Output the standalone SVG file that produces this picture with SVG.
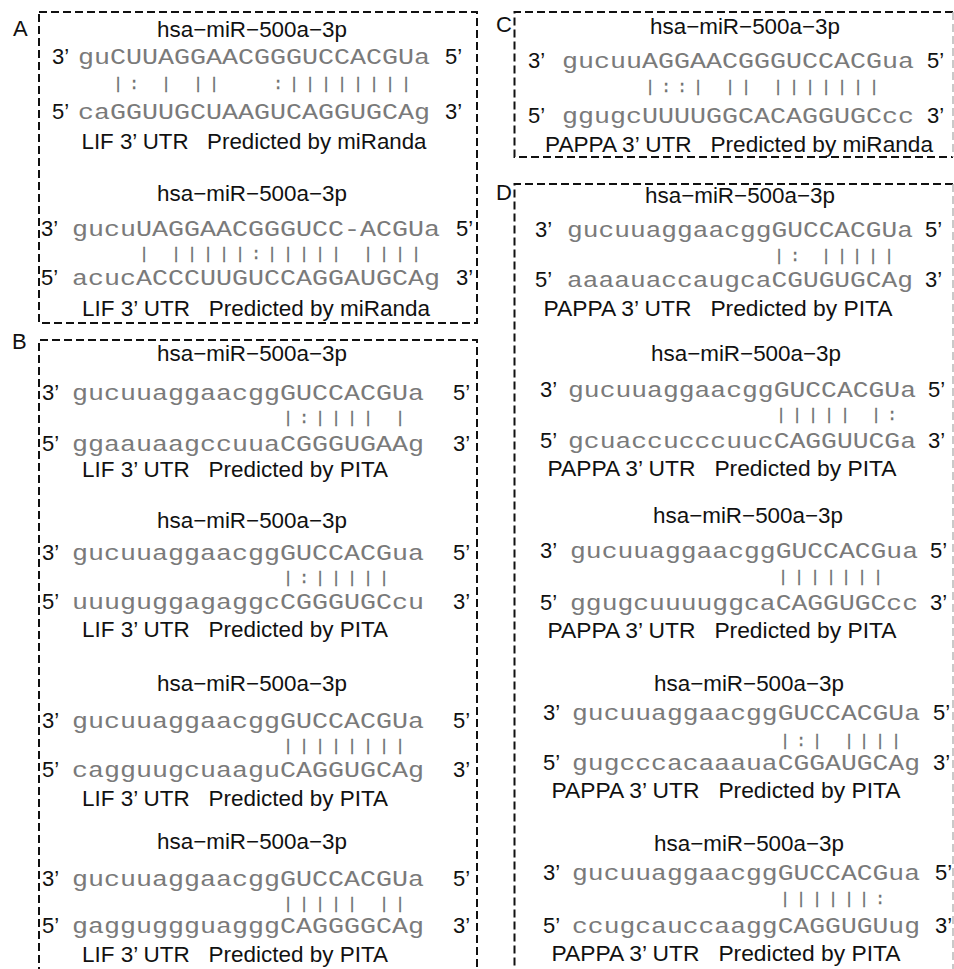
<svg xmlns="http://www.w3.org/2000/svg" width="954" height="969" viewBox="0 0 954 969">
<style>
.lab{font-family:"Liberation Sans",Arial,sans-serif;font-size:22px;fill:#111;white-space:pre}
.mid{text-anchor:middle}
.seq{font-family:"Liberation Mono","Courier New",monospace;font-size:22px;fill:#7a7a7a}
.bar{font-family:"Liberation Mono","Courier New",monospace;font-size:17px;fill:#707070;stroke:#707070;stroke-width:0.3;text-anchor:middle}
.box{fill:none;stroke:#111;stroke-width:2;stroke-dasharray:8 4}
.edge{fill:none;stroke:#b8b8b8;stroke-width:1.5;stroke-dasharray:8 4}
</style>
<rect width="954" height="969" fill="#fff"/>
<g id="frames">
<rect class="box" x="39" y="12" width="438" height="311"/>
<path class="box" d="M39,975 V340 H477 V975"/>
<path class="box" d="M953,12 H514.5 V157 H953"/>
<path class="edge" d="M953,12 V157"/>
<path class="box" d="M953,184 H514.5 V975"/>
<path class="edge" d="M953,184 V975"/>
</g>
<g id="panel-labels">
<text class="lab" x="13" y="36">A</text>
<text class="lab" x="12" y="349">B</text>
<text class="lab" x="496" y="32">C</text>
<text class="lab" x="496" y="200">D</text>
</g>

<g id="A1">
<text class="lab mid" x="252" y="37" textLength="190" lengthAdjust="spacingAndGlyphs">hsa−miR−500a−3p</text>
<text class="lab" x="52" y="64">3’</text>
<text class="seq" x="78" y="64" textLength="352" lengthAdjust="spacingAndGlyphs">guCUUAGGAACGGGUCCACGUa</text>
<text class="lab" x="445" y="64">5’</text>
<text class="bar" x="118 134 166 198 214 278 294 310 326 342 358 374 390 406" y="89">|:|||:||||||||</text>
<text class="lab" x="52" y="119">5’</text>
<text class="seq" x="78" y="119" textLength="352" lengthAdjust="spacingAndGlyphs">caGGUUGCUAAGUCAGGUGCAg</text>
<text class="lab" x="445" y="119">3’</text>
<text class="lab mid" x="254" y="149" textLength="345" lengthAdjust="spacingAndGlyphs">LIF 3’ UTR   Predicted by miRanda</text>
</g>

<g id="A2">
<text class="lab mid" x="252" y="201" textLength="190" lengthAdjust="spacingAndGlyphs">hsa−miR−500a−3p</text>
<text class="lab" x="41" y="236">3’</text>
<text class="seq" x="72" y="236" textLength="368" lengthAdjust="spacingAndGlyphs">gucuUAGGAACGGGUCC-ACGUa</text>
<text class="lab" x="456" y="236">5’</text>
<text class="bar" x="144 176 192 208 224 240 256 272 288 304 320 336 368 384 400 416" y="259">||||||:|||||||||</text>
<text class="lab" x="41" y="285">5’</text>
<text class="seq" x="72" y="285" textLength="368" lengthAdjust="spacingAndGlyphs">acucACCCUUGUCCAGGAUGCAg</text>
<text class="lab" x="456" y="285">3’</text>
<text class="lab mid" x="256" y="316" textLength="348" lengthAdjust="spacingAndGlyphs">LIF 3’ UTR   Predicted by miRanda</text>
</g>

<g id="B1">
<text class="lab mid" x="252" y="361" textLength="190" lengthAdjust="spacingAndGlyphs">hsa−miR−500a−3p</text>
<text class="lab" x="42" y="400">3’</text>
<text class="seq" x="72" y="400" textLength="352" lengthAdjust="spacingAndGlyphs">gucuuaggaacggGUCCACGUa</text>
<text class="lab" x="453" y="400">5’</text>
<text class="bar" x="288 304 320 336 352 368 400" y="423">|:|||||</text>
<text class="lab" x="42" y="451">5’</text>
<text class="seq" x="72" y="451" textLength="352" lengthAdjust="spacingAndGlyphs">ggaauaagccuuaCGGGUGAAg</text>
<text class="lab" x="453" y="451">3’</text>
<text class="lab mid" x="235" y="477" textLength="306" lengthAdjust="spacingAndGlyphs">LIF 3’ UTR   Predicted by PITA</text>
</g>

<g id="B2">
<text class="lab mid" x="252" y="528" textLength="190" lengthAdjust="spacingAndGlyphs">hsa−miR−500a−3p</text>
<text class="lab" x="42" y="560">3’</text>
<text class="seq" x="72" y="560" textLength="352" lengthAdjust="spacingAndGlyphs">gucuuaggaacggGUCCACGua</text>
<text class="lab" x="453" y="560">5’</text>
<text class="bar" x="288 304 320 336 352 368 384" y="583">|:|||||</text>
<text class="lab" x="42" y="609">5’</text>
<text class="seq" x="72" y="609" textLength="352" lengthAdjust="spacingAndGlyphs">uuuguggagaggcCGGGUGCcu</text>
<text class="lab" x="453" y="609">3’</text>
<text class="lab mid" x="235" y="637" textLength="306" lengthAdjust="spacingAndGlyphs">LIF 3’ UTR   Predicted by PITA</text>
</g>

<g id="B3">
<text class="lab mid" x="252" y="691" textLength="190" lengthAdjust="spacingAndGlyphs">hsa−miR−500a−3p</text>
<text class="lab" x="42" y="728">3’</text>
<text class="seq" x="72" y="728" textLength="352" lengthAdjust="spacingAndGlyphs">gucuuaggaacggGUCCACGUa</text>
<text class="lab" x="453" y="728">5’</text>
<text class="bar" x="288 304 320 336 352 368 384 400" y="751">||||||||</text>
<text class="lab" x="42" y="777">5’</text>
<text class="seq" x="72" y="777" textLength="352" lengthAdjust="spacingAndGlyphs">cagguugcuaaguCAGGUGCAg</text>
<text class="lab" x="453" y="777">3’</text>
<text class="lab mid" x="235" y="806" textLength="306" lengthAdjust="spacingAndGlyphs">LIF 3’ UTR   Predicted by PITA</text>
</g>

<g id="B4">
<text class="lab mid" x="252" y="849" textLength="190" lengthAdjust="spacingAndGlyphs">hsa−miR−500a−3p</text>
<text class="lab" x="42" y="886">3’</text>
<text class="seq" x="72" y="886" textLength="352" lengthAdjust="spacingAndGlyphs">gucuuaggaacggGUCCACGUa</text>
<text class="lab" x="453" y="886">5’</text>
<text class="bar" x="288 304 320 336 352 384 400" y="909">|||||||</text>
<text class="lab" x="42" y="933">5’</text>
<text class="seq" x="72" y="933" textLength="352" lengthAdjust="spacingAndGlyphs">gagguggguagggCAGGGGCAg</text>
<text class="lab" x="453" y="933">3’</text>
<text class="lab mid" x="235" y="962" textLength="306" lengthAdjust="spacingAndGlyphs">LIF 3’ UTR   Predicted by PITA</text>
</g>

<g id="C1">
<text class="lab mid" x="745" y="34" textLength="190" lengthAdjust="spacingAndGlyphs">hsa−miR−500a−3p</text>
<text class="lab" x="528" y="68">3’</text>
<text class="seq" x="562" y="68" textLength="352" lengthAdjust="spacingAndGlyphs">gucuuAGGAACGGGUCCACGua</text>
<text class="lab" x="927" y="68">5’</text>
<text class="bar" x="650 666 682 698 730 746 778 794 810 826 842 858 874" y="92">|::||||||||||</text>
<text class="lab" x="528" y="123">5’</text>
<text class="seq" x="562" y="123" textLength="352" lengthAdjust="spacingAndGlyphs">ggugcUUUUGGCACAGGUGCcc</text>
<text class="lab" x="927" y="123">3’</text>
<text class="lab mid" x="739" y="152" textLength="388" lengthAdjust="spacingAndGlyphs">PAPPA 3’ UTR   Predicted by miRanda</text>
</g>

<g id="D1">
<text class="lab mid" x="740" y="203" textLength="190" lengthAdjust="spacingAndGlyphs">hsa−miR−500a−3p</text>
<text class="lab" x="535" y="237">3’</text>
<text class="seq" x="567" y="237" textLength="346" lengthAdjust="spacingAndGlyphs">gucuuaggaacggGUCCACGUa</text>
<text class="lab" x="925" y="237">5’</text>
<text class="bar" x="779 795 826 842 857 873 889" y="261">|:|||||</text>
<text class="lab" x="535" y="287">5’</text>
<text class="seq" x="567" y="287" textLength="346" lengthAdjust="spacingAndGlyphs">aaaauaccaugcaCGUGUGCAg</text>
<text class="lab" x="925" y="287">3’</text>
<text class="lab mid" x="718" y="316" textLength="349" lengthAdjust="spacingAndGlyphs">PAPPA 3’ UTR   Predicted by PITA</text>
</g>

<g id="D2">
<text class="lab mid" x="746" y="361" textLength="190" lengthAdjust="spacingAndGlyphs">hsa−miR−500a−3p</text>
<text class="lab" x="540" y="397">3’</text>
<text class="seq" x="568" y="397" textLength="348" lengthAdjust="spacingAndGlyphs">gucuuaggaacggGUCCACGUa</text>
<text class="lab" x="928" y="397">5’</text>
<text class="bar" x="781 797 813 829 845 876 892" y="420">||||||:</text>
<text class="lab" x="540" y="448">5’</text>
<text class="seq" x="568" y="448" textLength="348" lengthAdjust="spacingAndGlyphs">gcuaccucccuucCAGGUUCGa</text>
<text class="lab" x="928" y="448">3’</text>
<text class="lab mid" x="722" y="476" textLength="349" lengthAdjust="spacingAndGlyphs">PAPPA 3’ UTR   Predicted by PITA</text>
</g>

<g id="D3">
<text class="lab mid" x="748" y="523" textLength="190" lengthAdjust="spacingAndGlyphs">hsa−miR−500a−3p</text>
<text class="lab" x="540" y="558">3’</text>
<text class="seq" x="570" y="558" textLength="348" lengthAdjust="spacingAndGlyphs">gucuuaggaacggGUCCACGua</text>
<text class="lab" x="930" y="558">5’</text>
<text class="bar" x="783 799 815 831 846 862 878" y="582">|||||||</text>
<text class="lab" x="540" y="610">5’</text>
<text class="seq" x="570" y="610" textLength="348" lengthAdjust="spacingAndGlyphs">ggugcuuuuggcaCAGGUGCcc</text>
<text class="lab" x="930" y="610">3’</text>
<text class="lab mid" x="722" y="638" textLength="349" lengthAdjust="spacingAndGlyphs">PAPPA 3’ UTR   Predicted by PITA</text>
</g>

<g id="D4">
<text class="lab mid" x="749" y="691" textLength="190" lengthAdjust="spacingAndGlyphs">hsa−miR−500a−3p</text>
<text class="lab" x="543" y="720">3’</text>
<text class="seq" x="572" y="720" textLength="348" lengthAdjust="spacingAndGlyphs">gucuuaggaacggGUCCACGUa</text>
<text class="lab" x="933" y="720">5’</text>
<text class="bar" x="785 801 817 849 864 880 896" y="746">|:|||||</text>
<text class="lab" x="543" y="770">5’</text>
<text class="seq" x="572" y="770" textLength="348" lengthAdjust="spacingAndGlyphs">gugcccacaaauaCGGAUGCAg</text>
<text class="lab" x="933" y="770">3’</text>
<text class="lab mid" x="726" y="798" textLength="349" lengthAdjust="spacingAndGlyphs">PAPPA 3’ UTR   Predicted by PITA</text>
</g>

<g id="D5">
<text class="lab mid" x="749" y="851" textLength="190" lengthAdjust="spacingAndGlyphs">hsa−miR−500a−3p</text>
<text class="lab" x="543" y="880">3’</text>
<text class="seq" x="572" y="880" textLength="348" lengthAdjust="spacingAndGlyphs">gucuuaggaacggGUCCACGua</text>
<text class="lab" x="935" y="880">5’</text>
<text class="bar" x="785 801 817 833 849 864 880" y="904">||||||:</text>
<text class="lab" x="543" y="933">5’</text>
<text class="seq" x="572" y="933" textLength="348" lengthAdjust="spacingAndGlyphs">ccugcauccaaggCAGGUGUug</text>
<text class="lab" x="935" y="933">3’</text>
<text class="lab mid" x="726" y="961" textLength="349" lengthAdjust="spacingAndGlyphs">PAPPA 3’ UTR   Predicted by PITA</text>
</g>
<g id="connectors"></g>
</svg>
